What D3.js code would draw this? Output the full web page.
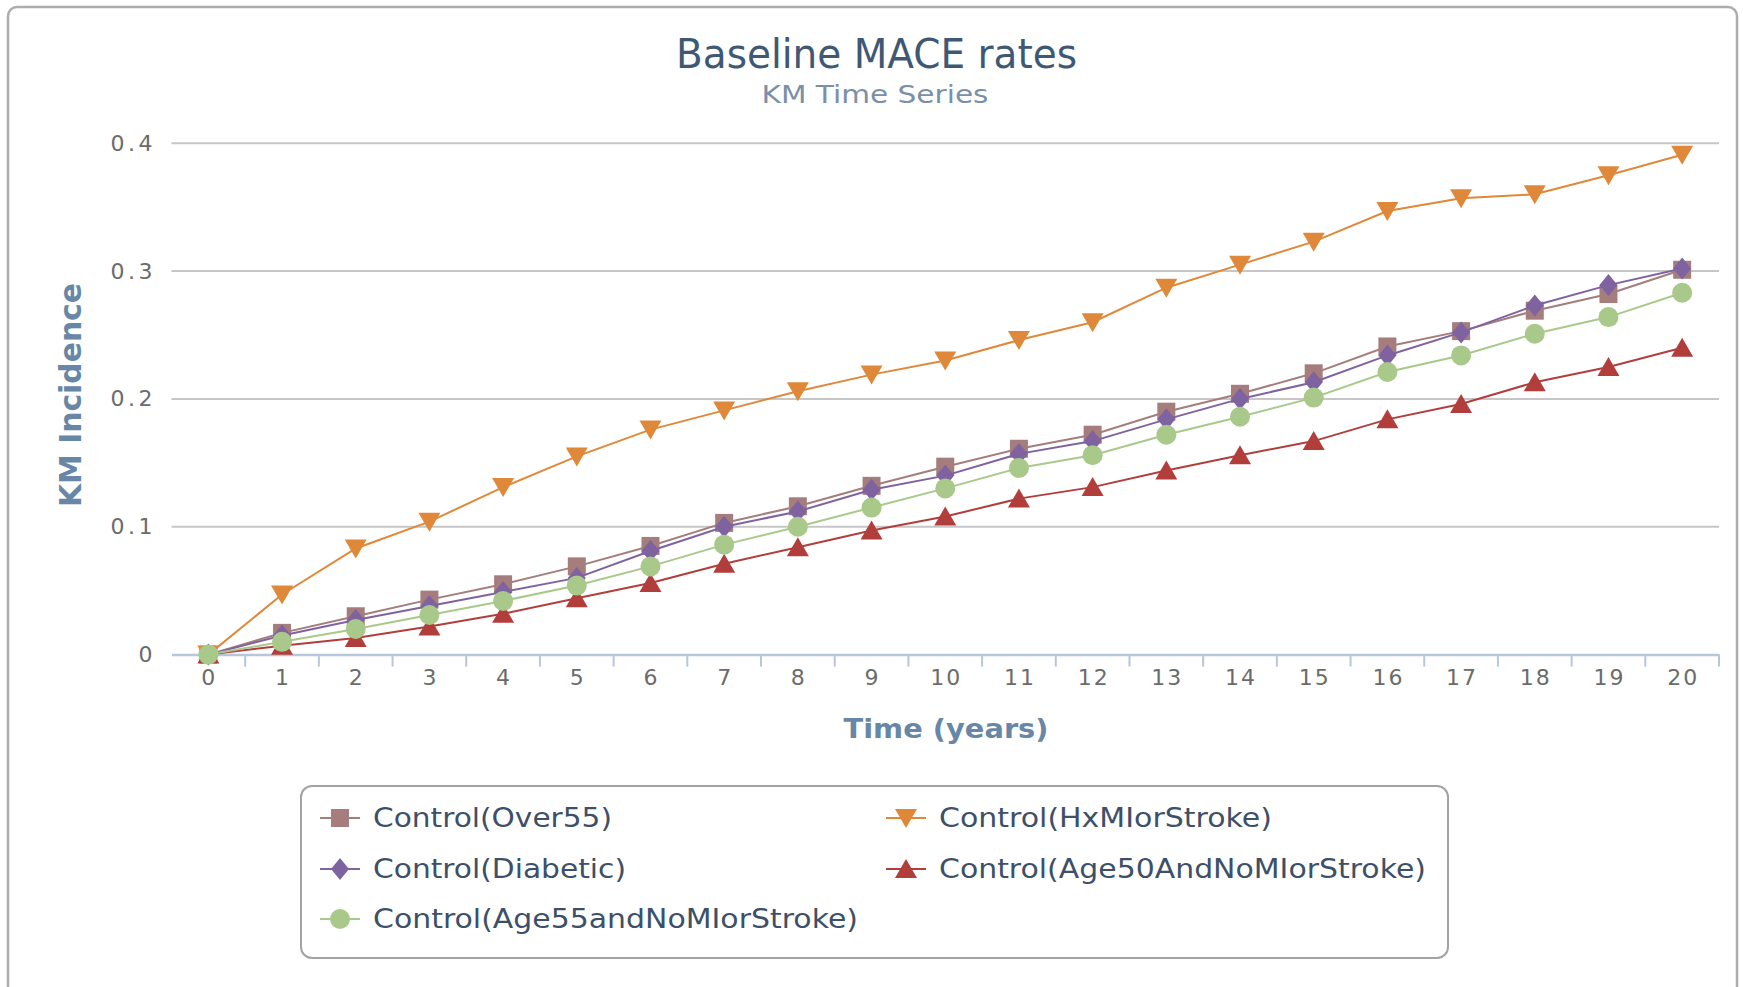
<!DOCTYPE html>
<html>
<head>
<meta charset="utf-8">
<script src="https://cdn.jsdelivr.net/npm/d3@7"></script>
<style>
  html, body { margin: 0; padding: 0; background: #ffffff; }
  svg { display: block; font-family: "DejaVu Sans", sans-serif; }
</style>
</head>
<body>
<svg id="chart" width="1743" height="987"></svg>
<script>
// ---- data ----
const years = ["0","1","2","3","4","5","6","7","8","9","10","11","12","13","14","15","16","17","18","19","20"];
const yTicks = [0, 0.1, 0.2, 0.3, 0.4];
const seriesNames = ["Control(Over55)", "Control(HxMIorStroke)", "Control(Diabetic)", "Control(Age50AndNoMIorStroke)", "Control(Age55andNoMIorStroke)"];
const over55   = [0, 0.017, 0.030, 0.043, 0.055, 0.069, 0.085, 0.103, 0.116, 0.132, 0.147, 0.161, 0.172, 0.190, 0.204, 0.220, 0.241, 0.253, 0.269, 0.282, 0.301];
const hxMI     = [0, 0.047, 0.083, 0.104, 0.131, 0.155, 0.176, 0.191, 0.206, 0.219, 0.230, 0.246, 0.260, 0.287, 0.305, 0.323, 0.347, 0.357, 0.360, 0.375, 0.391];
const diabetic = [0, 0.015, 0.027, 0.038, 0.049, 0.060, 0.081, 0.100, 0.112, 0.129, 0.140, 0.157, 0.167, 0.184, 0.200, 0.213, 0.234, 0.252, 0.273, 0.289, 0.302];
const age50    = [0, 0.007, 0.013, 0.022, 0.032, 0.044, 0.056, 0.071, 0.084, 0.097, 0.108, 0.122, 0.131, 0.144, 0.156, 0.167, 0.184, 0.196, 0.213, 0.225, 0.240];
const age55    = [0, 0.010, 0.020, 0.031, 0.042, 0.054, 0.069, 0.086, 0.100, 0.115, 0.130, 0.146, 0.156, 0.172, 0.186, 0.201, 0.221, 0.234, 0.251, 0.264, 0.283];
const seriesValues = [over55, hxMI, diabetic, age50, age55];

// ---- styles ----
const colors  = ["#a57d7c", "#e0883a", "#7f63a1", "#b23e3c", "#a9c98b"];
const shapes  = ["square", "triDown", "diamond", "triUp", "circle"];
const legendTextWidths = [239, 333, 253, 487, 485];

const svg = d3.select("#chart");

// container frame
svg.append("rect")
  .attr("x", 8).attr("y", 7).attr("width", 1729).attr("height", 1010)
  .attr("rx", 9).attr("fill", "#fff")
  .attr("stroke", "#adadad").attr("stroke-width", 2.5);

const plot = { left: 171.5, right: 1719, top: 143.2, bottom: 654.6 };

const x = d3.scaleBand().domain(years).range([plot.left, plot.right]).padding(0);
const y = d3.scaleLinear().domain([0, 0.4]).range([plot.bottom, plot.top]);

// titles
svg.append("text")
  .attr("x", 876.5).attr("y", 68).attr("text-anchor", "middle")
  .attr("font-size", 40).attr("fill", "#3f5873")
  .attr("textLength", 401).attr("lengthAdjust", "spacingAndGlyphs")
  .text("Baseline MACE rates");
svg.append("text")
  .attr("x", 875).attr("y", 103).attr("text-anchor", "middle")
  .attr("font-size", 25).attr("fill", "#7b8fa7")
  .attr("textLength", 227).attr("lengthAdjust", "spacingAndGlyphs")
  .text("KM Time Series");

// grid lines
svg.append("g").selectAll("line")
  .data(yTicks.filter(d => d > 0))
  .join("line")
  .attr("x1", plot.left).attr("x2", plot.right)
  .attr("y1", d => y(d)).attr("y2", d => y(d))
  .attr("stroke", "#c6c6c6").attr("stroke-width", 2);

// y axis labels
const yAxis = d3.axisLeft(y).tickValues(yTicks).tickSize(0).tickPadding(15.5)
  .tickFormat(d => d === 0 ? "0" : d3.format(".1f")(d));
const gy = svg.append("g").attr("transform", `translate(${plot.left},0)`).call(yAxis);
gy.select(".domain").remove();
gy.selectAll("text").attr("font-size", 22).attr("fill", "#6b6b6b")
  .attr("letter-spacing", 3.5)
  .attr("font-family", "DejaVu Sans");

// x axis
const xAxis = d3.axisBottom(x).tickSize(0).tickPadding(15);
const gx = svg.append("g").attr("transform", `translate(0,${plot.bottom})`).call(xAxis);
gx.select(".domain").attr("stroke", "#b7c7db").attr("stroke-width", 2.5);
gx.selectAll("text").attr("font-size", 22).attr("fill", "#6b6b6b")
  .attr("letter-spacing", 2).attr("dx", 1)
  .attr("font-family", "DejaVu Sans");
// tick marks at band boundaries
const bounds = years.map(d => x(d)).concat([plot.right]);
gx.append("g").selectAll("line")
  .data(bounds.slice(1))
  .join("line")
  .attr("x1", d => d).attr("x2", d => d)
  .attr("y1", 0).attr("y2", 12)
  .attr("stroke", "#b7c7db").attr("stroke-width", 2);

// axis titles
svg.append("text")
  .attr("transform", `translate(81,395) rotate(-90)`)
  .attr("text-anchor", "middle")
  .attr("font-size", 30).attr("font-weight", "bold").attr("fill", "#6887a7")
  .attr("textLength", 224).attr("lengthAdjust", "spacingAndGlyphs")
  .text("KM Incidence");
svg.append("text")
  .attr("x", 946).attr("y", 738).attr("text-anchor", "middle")
  .attr("font-size", 27).attr("font-weight", "bold").attr("fill", "#6887a7")
  .attr("textLength", 205).attr("lengthAdjust", "spacingAndGlyphs")
  .text("Time (years)");

// marker shape generator
function markerPath(shape) {
  switch (shape) {
    case "square":  return "M-9,-9H9V9H-9Z";
    case "diamond": return "M0,-11L9,0L0,11L-9,0Z";
    case "triUp":   return "M0,-10L11,9H-11Z";
    case "triDown": return "M0,10L11,-9H-11Z";
    case "circle":  return "M10,0A10,10 0 1,1 -10,0A10,10 0 1,1 10,0Z";
  }
}

const line = d3.line().x((d, i) => x(years[i]) + x.bandwidth() / 2).y(d => y(d));

seriesValues.forEach((vals, si) => {
  const g = svg.append("g");
  g.append("path").datum(vals)
    .attr("d", line).attr("fill", "none")
    .attr("stroke", colors[si]).attr("stroke-width", 2);
  g.selectAll("path.m").data(vals).join("path")
    .attr("class", "m")
    .attr("d", markerPath(shapes[si]))
    .attr("transform", (d, i) => `translate(${x(years[i]) + x.bandwidth() / 2},${y(d)})`)
    .attr("fill", colors[si]);
});

// legend
svg.append("rect")
  .attr("x", 301).attr("y", 786).attr("width", 1147).attr("height", 172)
  .attr("rx", 11).attr("fill", "#fff")
  .attr("stroke", "#a3a3a3").attr("stroke-width", 2);

const colX = [340, 906];
const rowY = [818, 869, 919];
seriesNames.forEach((name, si) => {
  const cx = colX[si % 2], cy = rowY[Math.floor(si / 2)];
  const g = svg.append("g").attr("transform", `translate(${cx},${cy})`);
  g.append("line").attr("x1", -20).attr("x2", 20).attr("y1", 0).attr("y2", 0)
    .attr("stroke", colors[si]).attr("stroke-width", 2);
  g.append("path").attr("d", markerPath(shapes[si])).attr("fill", colors[si]);
  g.append("text")
    .attr("x", 33).attr("y", 9)
    .attr("font-size", 26).attr("fill", "#3d5068")
    .attr("textLength", legendTextWidths[si]).attr("lengthAdjust", "spacingAndGlyphs")
    .text(name);
});
</script>
</body>
</html>
